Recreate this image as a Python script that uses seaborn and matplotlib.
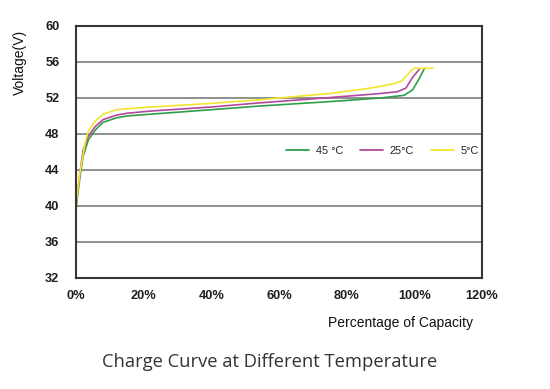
import numpy as np
import pandas as pd
import matplotlib
matplotlib.use("Agg")
import matplotlib.pyplot as plt
import seaborn as sns
from matplotlib.ticker import FuncFormatter

# ---- data ----
x_45 = [0, 1.2, 2.1, 3.6, 5.6, 8.0, 12.0, 15.0, 22.0, 40.0, 54.0, 75.0, 90.0, 97.0, 99.5, 101.5, 103.0]
v_45 = [39.7, 43.3, 45.5, 47.3, 48.4, 49.3, 49.8, 50.0, 50.2, 50.7, 51.1, 51.6, 52.0, 52.3, 52.9, 54.2, 55.3]

x_25 = [0, 1.2, 2.1, 3.6, 5.6, 8.0, 12.0, 15.0, 22.0, 40.0, 54.0, 75.0, 90.0, 95.0, 97.5, 99.5, 101.5]
v_25 = [40.1, 43.8, 46.2, 47.7, 48.8, 49.6, 50.1, 50.3, 50.55, 51.0, 51.45, 52.05, 52.5, 52.7, 53.1, 54.3, 55.2]

x_5 = [0, 1.2, 2.7, 3.6, 5.6, 8.0, 12.0, 15.0, 22.0, 40.0, 54.0, 60.0, 75.0, 87.0, 90.0, 94.0, 96.3, 98.0, 99.2, 100.0, 105.5]
v_5 = [40.1, 43.8, 47.0, 48.3, 49.4, 50.2, 50.7, 50.8, 51.0, 51.4, 51.8, 52.0, 52.5, 53.1, 53.3, 53.6, 53.9, 54.6, 55.1, 55.3, 55.3]

series_labels = ["45 °C", "25°C", "5°C"]
series_colors = ["#2e9e4a", "#b0489c", "#f2e52e"]

y_ticks = [32, 36, 40, 44, 48, 52, 56, 60]
x_ticks = [0, 20, 40, 60, 80, 100, 120]

title_text = "Charge Curve at Different Temperature"
x_label = "Percentage of Capacity"
y_label = "Voltage(V)"

# ---- build long-form table ----
frames = []
for lab, xs, vs in zip(series_labels, [x_45, x_25, x_5], [v_45, v_25, v_5]):
    frames.append(pd.DataFrame({"Capacity": xs, "Voltage": vs, "Temp": lab}))
df = pd.concat(frames, ignore_index=True)

sns.set_theme(style="white")
plt.rcParams["font.family"] = ["Liberation Sans", "DejaVu Sans"]

fig = plt.figure(figsize=(5.5, 3.89), dpi=100)
ax = fig.add_axes([76 / 550, 111 / 389, 406 / 550, 252 / 389])

sns.lineplot(data=df, x="Capacity", y="Voltage", hue="Temp", units="Temp",
             estimator=None, sort=False, palette=dict(zip(series_labels, series_colors)),
             hue_order=series_labels, linewidth=1.2, ax=ax, zorder=3)

ax.set_xlim(0, 120)
ax.set_ylim(32, 60)
ax.set_xticks(x_ticks)
ax.set_yticks(y_ticks)
ax.xaxis.set_major_formatter(FuncFormatter(lambda v, p: f"{int(v)}%"))
ax.tick_params(axis="both", length=0, labelsize=9.2, colors="#1e1e1e")
ax.tick_params(axis="y", pad=12)
ax.tick_params(axis="x", pad=8.5)
for t in ax.get_xticklabels() + ax.get_yticklabels():
    t.set_fontweight("bold")
ax.set_xlabel("")
ax.set_ylabel("")

ax.grid(axis="y", color="#8f8f8f", linewidth=1.4)
ax.grid(axis="x", visible=False)
for s in ax.spines.values():
    s.set_color("#3b3631")
    s.set_linewidth(1.5)
    s.set_visible(True)
    s.set_zorder(4)

leg = ax.legend(loc="center left", bbox_to_anchor=(0.518, 0.505), ncol=3, frameon=False,
                fontsize=7.8, handlelength=2.1, handletextpad=0.6, columnspacing=1.6,
                borderpad=0, borderaxespad=0)
for line in leg.get_lines():
    line.set_linewidth(1.3)
for t in leg.get_texts():
    t.set_color("#222222")

fig.text(401 / 550, 1 - 323 / 389, x_label, ha="center", va="center", fontsize=10, color="#111111")
fig.text(20 / 550, 1 - 62 / 389, y_label, ha="center", va="center", rotation=90, fontsize=10, color="#111111")
fig.text(270 / 550, 1 - 362 / 389, title_text, ha="center", va="center", fontsize=13.2,
         color="#333333", family=["Open Sans", "DejaVu Sans"])

fig.savefig("out.png", dpi=100)
